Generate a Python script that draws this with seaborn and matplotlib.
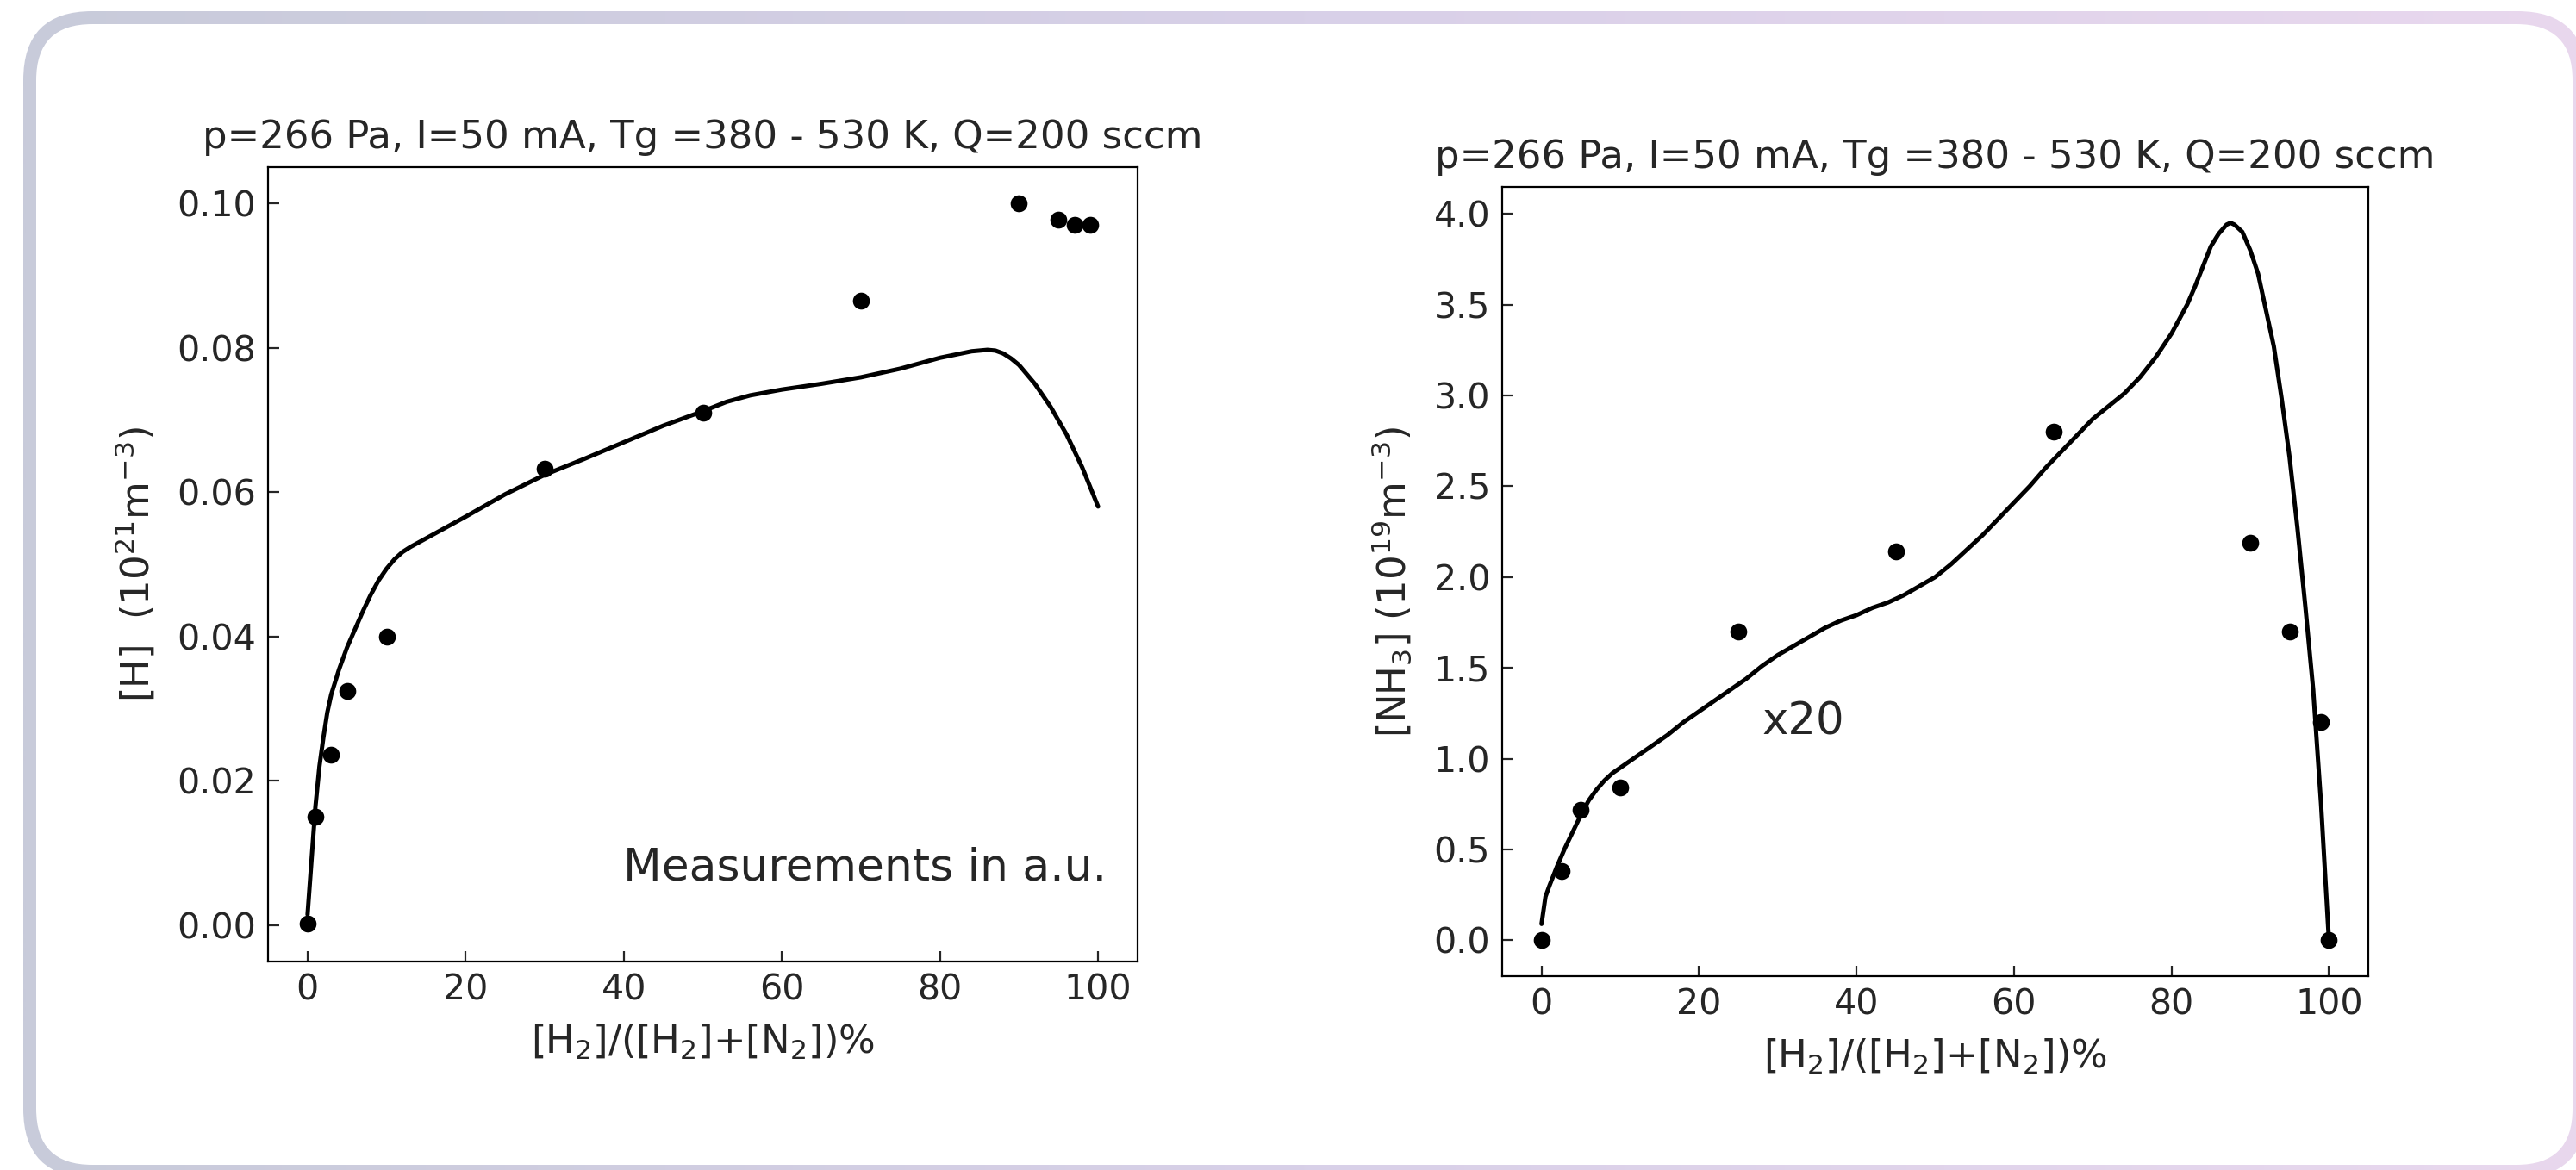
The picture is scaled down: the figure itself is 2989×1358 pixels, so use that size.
import numpy as np
import pandas as pd
import matplotlib
matplotlib.use("Agg")
import matplotlib.pyplot as plt
from matplotlib.patches import FancyBboxPatch
import seaborn as sns

# ---------------- data ----------------
h_meas_x = [0, 1, 3, 5, 10, 30, 50, 70, 90, 95, 97, 99]
h_meas_y = [0.0003, 0.015, 0.0236, 0.0325, 0.040, 0.0632, 0.071, 0.0865, 0.100, 0.0977, 0.0970, 0.0970]

h_model_x = [0, 0.5, 1, 1.5, 2, 2.5, 3, 4, 5, 6, 7, 8, 9, 10, 11, 12, 13, 14, 16, 18, 20,
             25, 30, 35, 40, 45, 50, 53, 56, 60, 65, 70, 75, 80, 84, 86, 87, 88, 89, 90,
             92, 94, 96, 98, 100]
h_model_y = [0.0015, 0.009, 0.0165, 0.022, 0.026, 0.0295, 0.032, 0.0355, 0.0385, 0.041,
             0.0435, 0.0458, 0.0478, 0.0494, 0.0507, 0.0517, 0.0524, 0.0530, 0.0542, 0.0554,
             0.0566, 0.0597, 0.0624, 0.0646, 0.0669, 0.0692, 0.0712, 0.0725, 0.0734, 0.0742,
             0.0750, 0.0759, 0.0771, 0.0786, 0.0795, 0.0797, 0.0796, 0.0792, 0.0785, 0.0776,
             0.0750, 0.0718, 0.0680, 0.0634, 0.0580]

nh3_meas_x = [0, 2.5, 5, 10, 25, 45, 65, 90, 95, 99, 100]
nh3_meas_y = [0.0, 0.38, 0.72, 0.84, 1.70, 2.14, 2.80, 2.19, 1.70, 1.20, 0.0]

nh3_model_x = [0, 0.5, 1, 2, 3, 4, 5, 6, 7, 8, 9, 10, 12, 14, 16, 18, 20, 22, 24, 26, 28,
               30, 32, 34, 36, 38, 40, 42, 44, 46, 48, 50, 52, 54, 56, 58, 60, 62, 64, 66,
               68, 70, 72, 74, 76, 78, 80, 82, 83, 84, 85, 86, 87, 87.5, 88, 89, 90, 91,
               92, 93, 94, 95, 96, 97, 98, 99, 100]
nh3_model_y = [0.09, 0.24, 0.30, 0.41, 0.51, 0.60, 0.69, 0.77, 0.83, 0.88, 0.92, 0.95, 1.01,
               1.07, 1.13, 1.20, 1.26, 1.32, 1.38, 1.44, 1.51, 1.57, 1.62, 1.67, 1.72, 1.76,
               1.79, 1.83, 1.86, 1.90, 1.95, 2.00, 2.07, 2.15, 2.23, 2.32, 2.41, 2.50, 2.60,
               2.69, 2.78, 2.87, 2.94, 3.01, 3.10, 3.21, 3.34, 3.50, 3.60, 3.71, 3.82, 3.89,
               3.94, 3.95, 3.94, 3.90, 3.80, 3.67, 3.47, 3.27, 2.98, 2.66, 2.27, 1.84, 1.38,
               0.75, 0.0]

title_text = "p=266 Pa, I=50 mA, Tg =380 - 530 K, Q=200 sccm"
x_label = r"[H$_2$]/([H$_2$]+[N$_2$])%"
y_label_h = r"[H]  (10$^{21}$m$^{-3}$)"
y_label_nh3 = r"[NH$_3$] (10$^{19}$m$^{-3}$)"
x_ticks = [0, 20, 40, 60, 80, 100]

# ---------------- style ----------------
sns.set_style("ticks")
plt.rcParams['font.family'] = ['DejaVu Sans']
plt.rcParams['mathtext.fontset'] = 'dejavusans'

W, H = 2989, 1358
DPI = 200
fig = plt.figure(figsize=(W / DPI, H / DPI), dpi=DPI, facecolor='white')

# ---------------- card frame with gradient border ----------------
bg = fig.add_axes([0, 0, 1, 1], zorder=-5)
bg.set_xlim(0, W)
bg.set_ylim(H, 0)
bg.axis('off')
stops = np.array([[200, 203, 218], [216, 208, 232], [233, 216, 238]]) / 255.0
t = np.linspace(0, 1, 512)
grad = np.empty((1, 512, 3))
for c in range(3):
    grad[0, :, c] = np.interp(t, [0, 0.5, 1], stops[:, c])
outer = FancyBboxPatch((27 + 80, 13 + 80), 3001 - 27 - 160, 1367 - 13 - 160,
                       boxstyle="round,pad=80", transform=bg.transData,
                       facecolor='none', edgecolor='none')
bg.add_patch(outer)
im = bg.imshow(grad, extent=(27, 3001, 1367, 13), aspect='auto', interpolation='bilinear')
im.set_clip_path(outer)
inner = FancyBboxPatch((42 + 65, 28 + 65), 2985 - 42 - 130, 1352 - 28 - 130,
                       boxstyle="round,pad=65", transform=bg.transData,
                       facecolor='white', edgecolor='none', zorder=3)
bg.add_patch(inner)

# ---------------- axes ----------------
ax1 = fig.add_axes([311 / W, 1 - 1116 / H, (1320 - 311) / W, (1116 - 194) / H])
ax2 = fig.add_axes([1743 / W, 1 - 1133 / H, (2748 - 1743) / W, (1133 - 217) / H])

df_hm = pd.DataFrame({"x": h_meas_x, "y": h_meas_y})
df_hl = pd.DataFrame({"x": h_model_x, "y": h_model_y})
df_nm = pd.DataFrame({"x": nh3_meas_x, "y": nh3_meas_y})
df_nl = pd.DataFrame({"x": nh3_model_x, "y": nh3_model_y})

for ax, dl, dm in [(ax1, df_hl, df_hm), (ax2, df_nl, df_nm)]:
    sns.lineplot(data=dl, x="x", y="y", ax=ax, color='black', linewidth=1.8,
                 sort=False, estimator=None)
    sns.scatterplot(data=dm, x="x", y="y", ax=ax, color='black', s=50,
                    edgecolor='black', linewidth=0, zorder=3)
    ax.set_xticks(x_ticks)
    ax.tick_params(direction='in', length=4.5, width=0.8, labelsize=14.8,
                   top=False, right=False, pad=5)
    ax.set_title(title_text, fontsize=16.2, pad=8)
    ax.set_xlabel(x_label, fontsize=16.2, labelpad=6)
    for sp in ax.spines.values():
        sp.set_linewidth(0.8)
        sp.set_color('black')

ax1.set_ylabel(y_label_h, fontsize=16.2, labelpad=8)
ax2.set_ylabel(y_label_nh3, fontsize=16.2, labelpad=8)
ax1.set_xlim(-5, 105)
ax1.set_ylim(-0.005, 0.105)
ax1.set_yticks([0.0, 0.02, 0.04, 0.06, 0.08, 0.10])
ax1.set_yticklabels(["0.00", "0.02", "0.04", "0.06", "0.08", "0.10"])
ax2.set_xlim(-5, 105)
ax2.set_ylim(-0.1975, 4.1475)
ax2.set_yticks([0.0, 0.5, 1.0, 1.5, 2.0, 2.5, 3.0, 3.5, 4.0])
ax2.set_yticklabels(["0.0", "0.5", "1.0", "1.5", "2.0", "2.5", "3.0", "3.5", "4.0"])

ax1.text(0.964, 0.118, "Measurements in a.u.", transform=ax1.transAxes,
         ha='right', va='center', fontsize=18.7)
ax2.text(28, 1.2, "x20", ha='left', va='center', fontsize=18.5)

fig.savefig("out.png", dpi=DPI, facecolor='white')
